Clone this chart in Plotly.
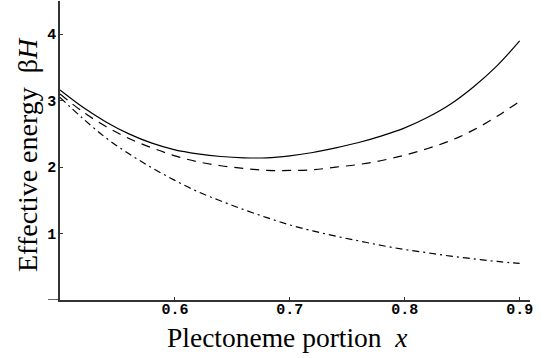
import plotly.graph_objects as go

x_vals = [0.50, 0.52, 0.54, 0.56, 0.58, 0.60, 0.62, 0.64, 0.66, 0.68, 0.70,
          0.72, 0.74, 0.76, 0.78, 0.80, 0.82, 0.84, 0.86, 0.88, 0.90]
solid_vals = [3.16, 2.90, 2.68, 2.50, 2.36, 2.26, 2.20, 2.16, 2.14, 2.14, 2.17,
              2.22, 2.29, 2.37, 2.47, 2.59, 2.75, 2.95, 3.21, 3.52, 3.90]
dashed_vals = [3.10, 2.83, 2.61, 2.43, 2.29, 2.17, 2.08, 2.02, 1.98, 1.95, 1.95,
               1.96, 2.00, 2.04, 2.10, 2.18, 2.28, 2.40, 2.56, 2.76, 2.99]
dashdot_vals = [3.05, 2.73, 2.44, 2.20, 1.99, 1.80, 1.63, 1.49, 1.36, 1.24, 1.13,
                1.04, 0.96, 0.89, 0.82, 0.76, 0.71, 0.66, 0.62, 0.58, 0.55]

x_ticks = [0.6, 0.7, 0.8, 0.9]
x_ticklabels = ["0.6", "0.7", "0.8", "0.9"]
y_ticks = [1, 2, 3, 4]
y_ticklabels = ["1", "2", "3", "4"]

x_title = "Plectoneme portion  <i>x</i>"
y_title = "Effective energy  β<i>H</i>"

fig = go.Figure()
fig.add_trace(go.Scatter(x=x_vals, y=solid_vals, mode="lines", line_shape="spline",
                         line=dict(color="black", width=1.2)))
fig.add_trace(go.Scatter(x=x_vals, y=dashed_vals, mode="lines", line_shape="spline",
                         line=dict(color="black", width=1.2, dash="9px,7px")))
fig.add_trace(go.Scatter(x=x_vals, y=dashdot_vals, mode="lines", line_shape="spline",
                         line=dict(color="black", width=1.2, dash="7px,4px,2px,4px")))

tickfont = dict(family="Liberation Mono", size=15, color="black", weight="bold")

plot_w = 547 - 60 - 17

fig.update_layout(
    width=547, height=358,
    margin=dict(l=60, r=17, t=1, b=58),
    paper_bgcolor="white", plot_bgcolor="white",
    showlegend=False,
    xaxis=dict(range=[0.5, 0.909], showgrid=False, zeroline=False,
               showline=True, linecolor="#333", linewidth=1.5,
               ticks="inside", ticklen=3, tickwidth=1, tickcolor="#333",
               tickvals=x_ticks, ticktext=x_ticklabels, tickfont=tickfont,
               ticklabelstandoff=-6),
    yaxis=dict(range=[0, 4.5], showgrid=False,
               zeroline=False, showline=True, linecolor="#333", linewidth=1.5,
               ticks="inside", ticklen=3, tickwidth=1, tickcolor="#333",
               tickvals=y_ticks, ticktext=y_ticklabels, tickfont=tickfont,
               ticklabelstandoff=-1),
    shapes=[
        dict(type="line", xref="paper", yref="y", x0=-12 / plot_w, x1=0, y0=0, y1=0,
             line=dict(color="#333", width=1.5)),
    ],
    annotations=[
        dict(text=x_title, xref="paper", yref="paper", x=(287.5 - 60) / plot_w, y=-0.124,
             xanchor="center", yanchor="middle", showarrow=False,
             font=dict(family="Liberation Serif", size=27.5, color="black")),
        dict(text=y_title, xref="paper", yref="paper", x=(28 - 60) / plot_w, y=0.485,
             xanchor="center", yanchor="middle", showarrow=False, textangle=-90,
             font=dict(family="Liberation Serif", size=28, color="black")),
    ],
)

fig.write_html("out.html")
